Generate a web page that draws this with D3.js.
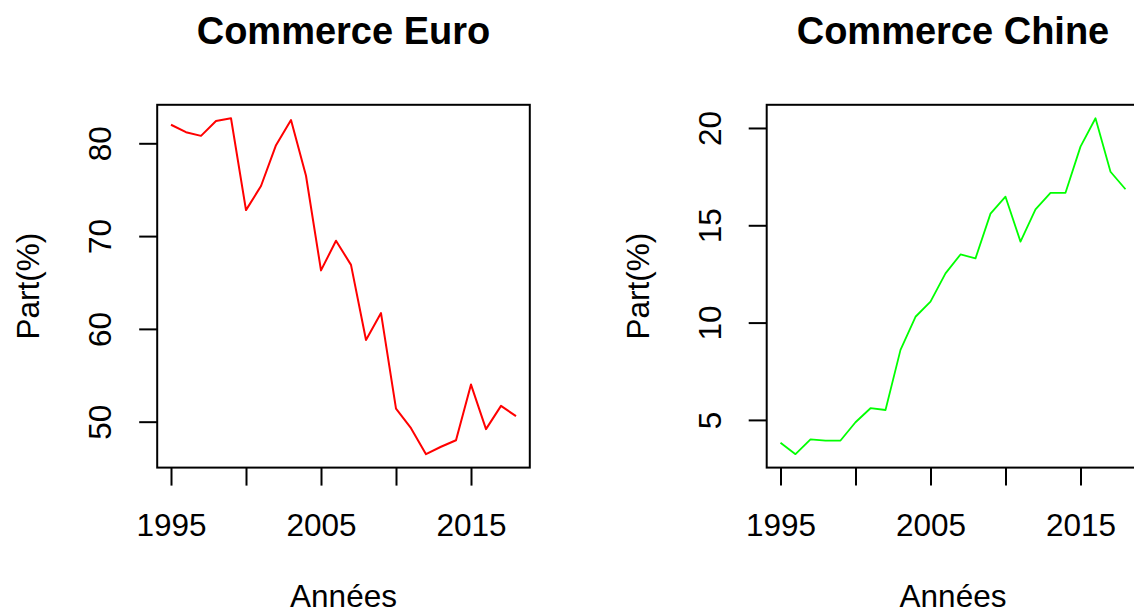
<!DOCTYPE html>
<html lang="fr">
    <head>
        <meta charset="utf-8">
        <title>Commerce</title>
        <script type="text/javascript" src="https://cdn.jsdelivr.net/npm/d3@7"></script>
        <style>
            body { margin: 0; background: #fff; }
            text { font-family: "Liberation Sans", Arial, sans-serif; fill: #000; }
        </style>
    </head>
    <body>
        <script type="text/javascript">

        // years and shares (%)
        var annees = [1995, 1996, 1997, 1998, 1999, 2000, 2001, 2002, 2003, 2004, 2005, 2006,
                      2007, 2008, 2009, 2010, 2011, 2012, 2013, 2014, 2015, 2016, 2017, 2018];
        var partEuro = [82.0, 81.2, 80.8, 82.4, 82.7, 72.8, 75.4, 79.8, 82.5, 76.5, 66.3, 69.5,
                        66.9, 58.8, 61.7, 51.4, 49.3, 46.5, 47.3, 48.0, 54.0, 49.2, 51.7, 50.6];
        var partChine = [3.83, 3.24, 4.0, 3.94, 3.94, 4.88, 5.6, 5.51, 8.6, 10.3, 11.08, 12.53,
                         13.5, 13.3, 15.6, 16.47, 14.16, 15.82, 16.67, 16.67, 19.04, 20.5, 17.75, 16.85];
        var xTicks = [1995, 2000, 2005, 2010, 2015];
        var xLabels = [1995, 2005, 2015];
        var yTicksEuro = [50, 60, 70, 80];
        var yTicksChine = [5, 10, 15, 20];

        var w = 1134, h = 614;
        var boxW = 372.6, boxTop = 104.8, boxBottom = 467.6;
        var fontSize = 31.5;

        var svg = d3.select("body")
                    .append("svg")
                    .attr("width", w)
                    .attr("height", h);

        svg.append("rect").attr("width", w).attr("height", h).attr("fill", "#fff");

        // R style range: data extent padded by 4% on each side
        function rRange(ext) {
          var pad = (ext[1] - ext[0]) * 0.04;
          return [ext[0] - pad, ext[1] + pad];
        }

        function panel(left, title, values, yTicks, color, lw) {
          var xScale = d3.scaleLinear()
                      .domain(rRange(d3.extent(annees)))
                      .range([left, left + boxW]);
          var yScale = d3.scaleLinear()
                      .domain(rRange(d3.extent(values)))
                      .range([boxBottom, boxTop]);

          var g = svg.append("g");

          // x axis
          var xa = g.append("g")
              .attr("transform", "translate(0," + boxBottom + ")")
              .call(d3.axisBottom(xScale)
                .tickValues(xTicks)
                .tickSize(18)
                .tickSizeOuter(0)
                .tickFormat(function(d) { return xLabels.indexOf(d) >= 0 ? d : ""; }));
          xa.select(".domain").remove();
          xa.selectAll("line").attr("stroke", "#000").attr("stroke-width", 2);
          xa.selectAll("text")
            .attr("y", 68).attr("dy", null)
            .style("font-size", fontSize + "px")
            .attr("fill", "#000");

          // y axis
          var ya = g.append("g")
              .attr("transform", "translate(" + left + ",0)")
              .call(d3.axisLeft(yScale)
                .tickValues(yTicks)
                .tickSize(18)
                .tickSizeOuter(0));
          ya.select(".domain").remove();
          ya.selectAll("line").attr("stroke", "#000").attr("stroke-width", 2);
          ya.selectAll("text")
            .attr("x", null).attr("dy", null)
            .attr("text-anchor", "middle")
            .attr("transform", "translate(-46,0) rotate(-90)")
            .style("font-size", fontSize + "px")
            .attr("fill", "#000");

          // box
          g.append("rect")
            .attr("x", left).attr("y", boxTop)
            .attr("width", boxW).attr("height", boxBottom - boxTop)
            .attr("fill", "none").attr("stroke", "#000").attr("stroke-width", 2);

          // series
          var line = d3.line()
              .x(function(d, i) { return xScale(annees[i]); })
              .y(function(d) { return yScale(d); });
          g.append("path")
            .datum(values)
            .attr("d", line)
            .attr("fill", "none")
            .attr("stroke", color)
            .attr("stroke-width", lw)
            .attr("stroke-linejoin", "round");

          // labels
          var cx = left + boxW / 2;
          g.append("text")
            .attr("x", cx).attr("y", 44)
            .attr("text-anchor", "middle")
            .style("font-size", "38px").style("font-weight", "bold")
            .text(title);
          g.append("text")
            .attr("x", cx).attr("y", 607)
            .attr("text-anchor", "middle")
            .style("font-size", fontSize + "px")
            .text("Années");
          g.append("text")
            .attr("transform", "translate(" + (left - 118) + "," + ((boxTop + boxBottom) / 2) + ") rotate(-90)")
            .attr("text-anchor", "middle")
            .style("font-size", fontSize + "px")
            .text("Part(%)");
        }

        panel(157.2, "Commerce Euro", partEuro, yTicksEuro, "#ff0000", 2);
        panel(766.7, "Commerce Chine", partChine, yTicksChine, "#00ff00", 1.8);

        </script>
    </body>
</html>
